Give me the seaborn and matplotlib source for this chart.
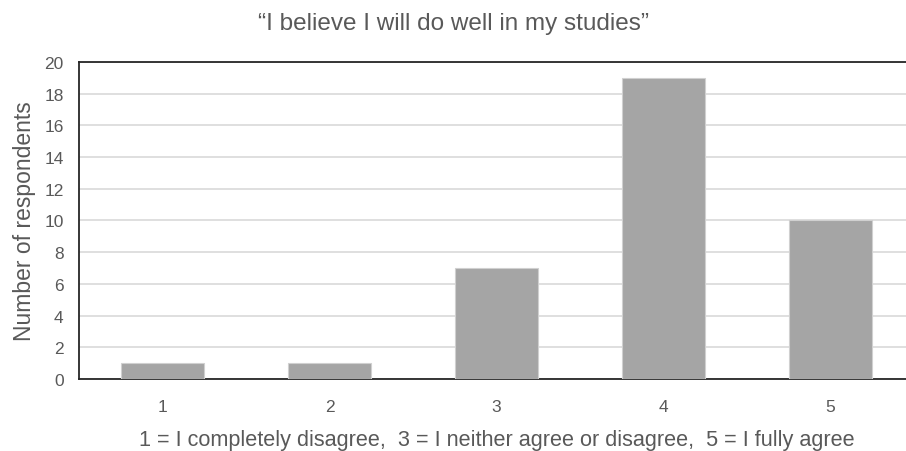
import pandas as pd
import matplotlib
matplotlib.use("Agg")
import matplotlib.pyplot as plt
import seaborn as sns

# Survey answers
ratings = ["1", "2", "3", "4", "5"]
respondents = [1, 1, 7, 19, 10]

df = pd.DataFrame({"Rating": ratings, "Respondents": respondents})

sns.set_style("white")
plt.rcParams['font.family'] = ['Liberation Sans', 'DejaVu Sans']
text_col = "#595959"

fig = plt.figure(figsize=(9.06, 4.52), dpi=100)
# axes runs a little past the right edge, like the cropped original
ax = fig.add_axes([0.0872, 0.159, 0.9216, 0.702])

sns.barplot(data=df, x="Rating", y="Respondents", color="#a5a5a5",
            width=0.5, edgecolor="#d0d0d0", linewidth=0.8, saturation=1, ax=ax, zorder=3)

ax.set_ylim(0, 20)
ax.set_yticks(range(0, 21, 2))
ax.set_xlim(-0.5, 4.5)
ax.yaxis.grid(True, color="#d9d9d9", linewidth=1.2, zorder=0)
ax.set_axisbelow(True)

for side in ["left", "top", "bottom"]:
    ax.spines[side].set_color("#262626")
    ax.spines[side].set_linewidth(1.3)
ax.spines["right"].set_visible(False)

ax.tick_params(axis="both", length=0, labelsize=12.5, colors=text_col)
ax.tick_params(axis="y", pad=11)
ax.tick_params(axis="x", pad=14)

# title is centred on the whole figure, not on the axes
fig.suptitle("\u201cI believe I will do well in my studies\u201d", fontsize=17.5,
             color=text_col, x=0.5, y=0.972, va="top")
ax.set_xlabel("1 = I completely disagree,  3 = I neither agree or disagree,  5 = I fully agree",
              fontsize=15.6, color=text_col, labelpad=11)
ax.set_ylabel("Number of respondents", fontsize=16.5, color=text_col, labelpad=6)

plt.savefig("out.png", dpi=100)
